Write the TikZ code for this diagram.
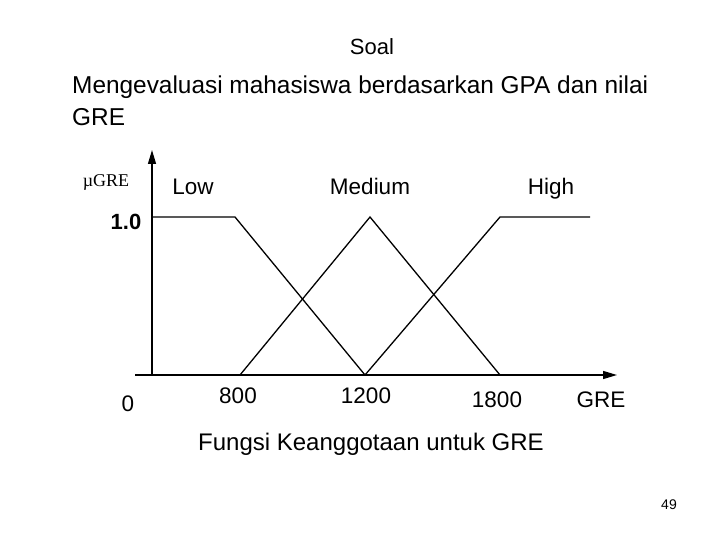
\documentclass[tikz,border=0pt]{standalone}
\usepackage{fontspec}
\setmainfont{Liberation Sans}
\newfontfamily\serifx{Liberation Serif}
\usetikzlibrary{arrows.meta}
\begin{document}
\begin{tikzpicture}[x=1pt,y=-1pt,
  lbl/.style={font=\fontsize{22.5}{26}\selectfont,inner sep=0pt},
  mf/.style={line width=1.3pt},
  ax/.style={line width=1.3pt,-{Triangle[length=14pt,width=8pt]}}]
\useasboundingbox (0,0) rectangle (720,540);
\node[lbl,font=\fontsize{22}{26}\selectfont] (t) at (372,47) {Soal};
\node[lbl,anchor=west,font=\fontsize{24.4}{28}\selectfont] (l1) at (72,87) {Mengevaluasi mahasiswa berdasarkan GPA dan nilai};
\node[lbl,anchor=west,font=\fontsize{24.4}{28}\selectfont] (l2) at (72,117) {GRE};
\coordinate (o) at (152,375);
\coordinate (yt) at (152,150);
\coordinate (x0) at (135,375);
\coordinate (xt) at (617,375);
\draw[ax] (o) -- (yt);
\draw[ax] (x0) -- (xt);
\coordinate (a1) at (152,217); \coordinate (a2) at (235,217); \coordinate (a3) at (365,375);
\coordinate (b1) at (240,375); \coordinate (b2) at (370,217); \coordinate (b3) at (500,375);
\coordinate (c1) at (365,375); \coordinate (c2) at (500,217); \coordinate (c3) at (590,217);
\draw[mf] (a1) -- (a2) -- (a3);
\draw[mf] (b1) -- (b2) -- (b3);
\draw[mf] (c1) -- (c2) -- (c3);
\node[lbl,font=\serifx\fontsize{18}{20}\selectfont] (mu) at (106,182) {µGRE};
\node[lbl,anchor=base] (low) at (193,195) {Low};
\node[lbl,anchor=base] (med) at (370,195) {Medium};
\node[lbl,anchor=base] (hi) at (551,195) {High};
\node[lbl,font=\bfseries\fontsize{22}{26}\selectfont] (one) at (126,222) {1.0};
\node[lbl] (zero) at (128,404) {0};
\node[lbl] (n8) at (238,396) {800};
\node[lbl] (n12) at (366,396) {1200};
\node[lbl] (n18) at (497,400) {1800};
\node[lbl] (gre) at (601,400) {GRE};
\node[lbl,font=\fontsize{24}{28}\selectfont] (cap) at (371,444) {Fungsi Keanggotaan untuk GRE};
\node[lbl,font=\fontsize{14}{16}\selectfont] (pg) at (669,505) {49};
\end{tikzpicture}
\end{document}
